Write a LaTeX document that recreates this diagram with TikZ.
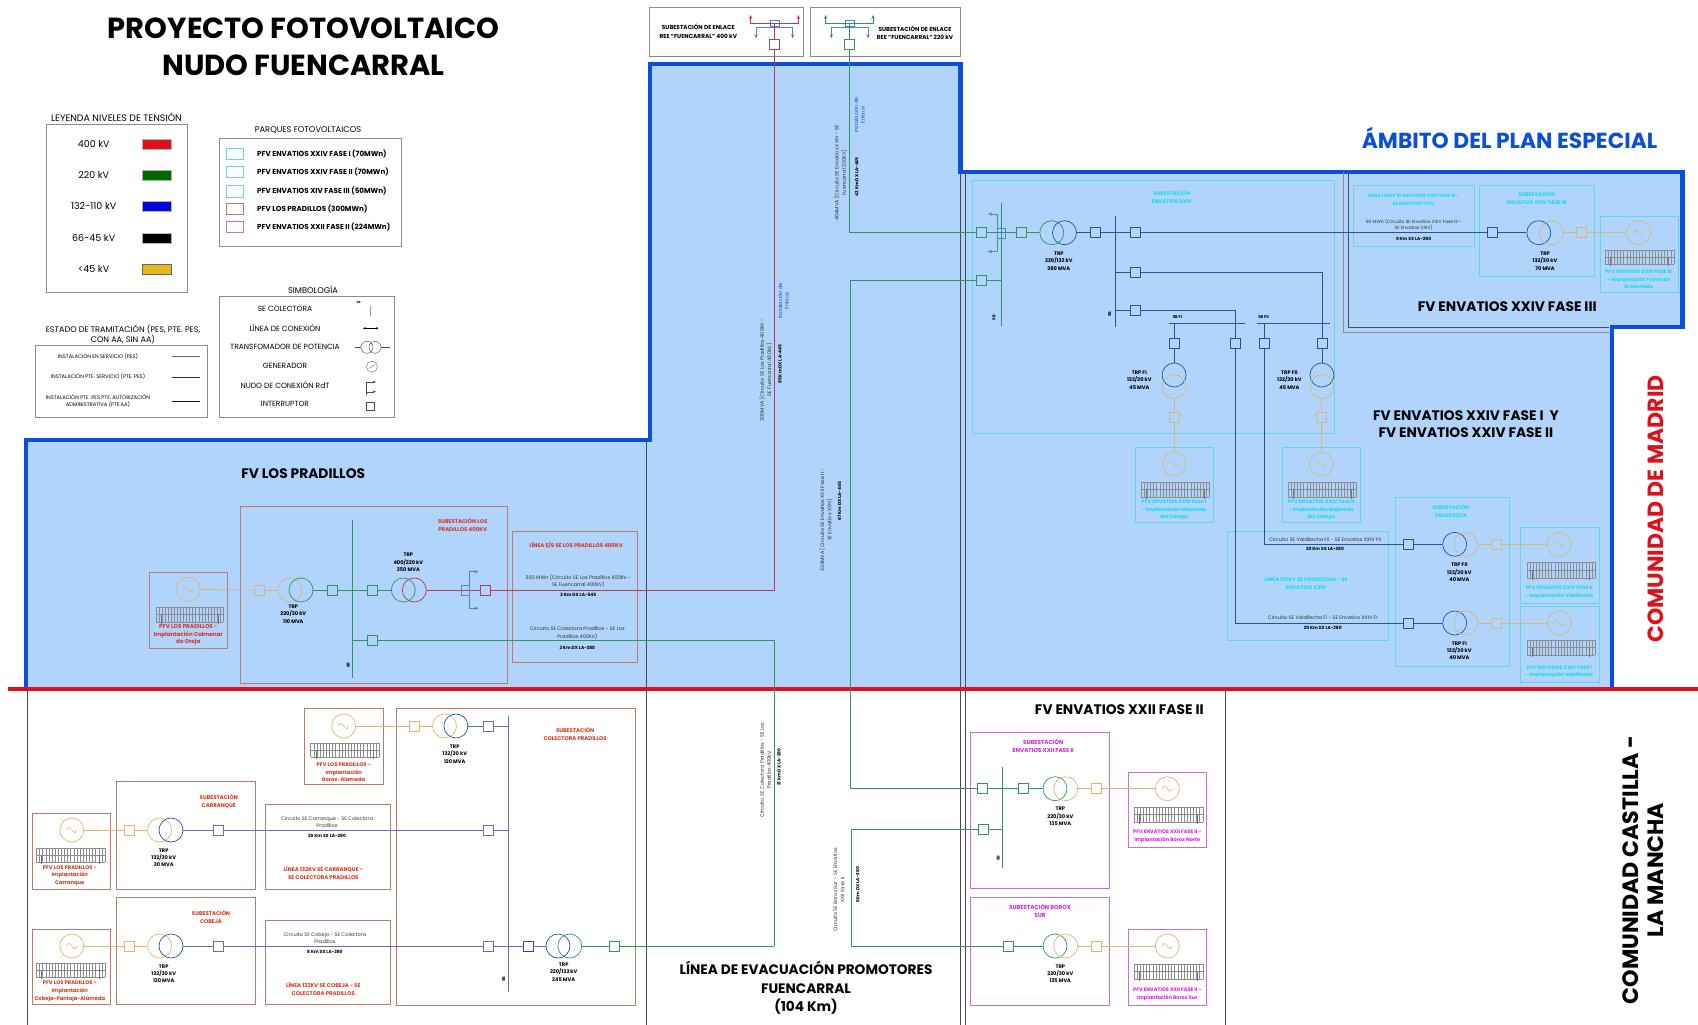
\documentclass[tikz,border=0pt]{standalone}
\usepackage{fontspec}
\setmainfont{Poppins}
\usetikzlibrary{arrows.meta}
\definecolor{zonefill}{HTML}{B0D4FB}
\definecolor{zoneblue}{HTML}{0A4FDC}
\definecolor{limitred}{HTML}{E0101A}
\definecolor{boxgrey}{HTML}{8C8C8C}
\definecolor{cyanbox}{HTML}{62D6EA}
\definecolor{cyantext}{HTML}{10DEEE}
\definecolor{brownbox}{HTML}{BC7A68}
\definecolor{redtext}{HTML}{D8341C}
\definecolor{purplebox}{HTML}{CE6CD8}
\definecolor{purpletext}{HTML}{DC1CE0}
\definecolor{line400}{HTML}{B83A58}
\definecolor{line220}{HTML}{2E9464}
\definecolor{line132}{HTML}{2A4EA4}
\definecolor{linepale}{HTML}{6C6CB0}
\definecolor{line30}{HTML}{D8B870}
\definecolor{nodeblue}{HTML}{4A86D8}
\tikzset{
  brk/.style={draw,rectangle,minimum size=10pt,inner sep=0pt,line width=.6pt},
  xf/.style={draw,circle,minimum size=24pt,inner sep=0pt,line width=.7pt},
  gencirc/.style={draw=line30,circle,minimum size=24pt,inner sep=0pt,line width=.7pt},
  conn/.style={line width=.7pt},
  busbar/.style={line width=.9pt},
  txtbase/.style={align=center,inner sep=0pt},
  trp/.style={txtbase,font=\fontsize{5.1}{7.3}\selectfont\bfseries},
  circ/.style={txtbase,font=\fontsize{5}{7.2}\selectfont,text=black!80},
  dist/.style={txtbase,font=\fontsize{4.4}{6}\selectfont\bfseries},
  cyanhead/.style={txtbase,font=\fontsize{5.2}{8}\selectfont\bfseries,text=cyantext},
  redhead/.style={txtbase,font=\fontsize{5.4}{8}\selectfont\bfseries,text=redtext},
  purphead/.style={txtbase,font=\fontsize{5.7}{8}\selectfont\bfseries,text=purpletext},
  enlace/.style={txtbase,font=\fontsize{5}{6.7}\selectfont,text=zoneblue},
  zonetitle/.style={txtbase,font=\fontsize{13.8}{16.7}\selectfont\bfseries},
  legtitle/.style={txtbase,font=\fontsize{9.4}{10}\selectfont},
  legrow/.style={txtbase,font=\fontsize{7.5}{8}\selectfont},
  cyanframe/.style={draw=cyanbox,line width=.7pt},
  brownframe/.style={draw=brownbox,line width=.7pt},
  purpleframe/.style={draw=purplebox,line width=.7pt},
  legframe/.style={draw=boxgrey,line width=.7pt},
  bothtips/.style={{Stealth[length=4pt,width=3.5pt]}-{Stealth[length=4pt,width=3.5pt]}}
}
\newcommand{\pvpanel}[4]{%
  \draw[black!45,line width=.4pt] (#1,#2) -- (#3,#2) (#1,{(#2+#4)/2}) -- (#3,{(#2+#4)/2}) (#1,#4) -- (#3,#4);
  \foreach \k in {0,...,22} {\draw[black!45,line width=.3pt] ({#1+\k*(#3-#1)/22},#2) -- ({#1+\k*(#3-#1)/22},#4);}
  \draw[black!55,line width=.7pt] ({#1+.08*(#3-#1)},{(#2+#4)/2}) -- ({#1+.08*(#3-#1)},{#4+2}) ({#1+.92*(#3-#1)},{(#2+#4)/2}) -- ({#1+.92*(#3-#1)},{#4+2});
}
\newcommand{\gensine}[1]{%
  \draw[line30,line width=.6pt] ([xshift=-5pt]#1.center) .. controls +(2.5,-5.5) and +(-2.5,-1) .. (#1.center) .. controls +(2.5,1) and +(-2.5,5.5) .. ([xshift=5pt]#1.center);
}
\begin{document}
\begin{tikzpicture}[x=1pt,y=-1pt]
   \useasboundingbox (0,0) rectangle (1698,1025);

   \draw [fill=zonefill,draw=zoneblue,line width=4.5pt,line join=miter] (650,64) -- (960.5,64) -- (960.5,172) -- (1682.4,172) -- (1682.4,327) -- (1612,327) -- (1612,689) -- (26,689) -- (26,440) -- (650,440) -- cycle;
   \draw [black!70,line width=.7pt] (646,440) -- (646,1025);
   \draw [black!70,line width=.7pt] (960,172) -- (960,1025);
   \draw [black!70,line width=.7pt] (965.5,172) -- (965.5,1025);
   \draw [black!70,line width=.7pt] (27,689) -- (27,1025);
   \draw [black!70,line width=.7pt] (1225,689) -- (1225,1025);
   \draw [black!70,line width=.7pt] (1348,172) -- (1348,327.7) -- (1609,327.7);
   \draw [black!45,line width=.7pt] (1343.5,172) -- (1343.5,332.3) -- (1609,332.3);
   \draw [limitred,line width=4.5pt] (8,689) -- (1698,689);

   % titles
   \node (TitleA) at (303.5,28.3) [txtbase,font=\fontsize{29}{36}\selectfont\bfseries] {PROYECTO FOTOVOLTAICO};
   \node (TitleB) at (303.5,65) [txtbase,font=\fontsize{29}{36}\selectfont\bfseries] {NUDO FUENCARRAL};
   \node (Ambito) at (1509.6,137.5) [txtbase,font=\fontsize{21.8}{24}\selectfont\bfseries,text=zoneblue] {ÁMBITO DEL PLAN ESPECIAL};
   \node (Madrid) at (1655.8,509) [txtbase,rotate=90,font=\fontsize{22}{24}\selectfont\bfseries,text=limitred] {COMUNIDAD DE MADRID};
   \node (Mancha) at (1643,870) [txtbase,rotate=90,font=\fontsize{22.2}{24.5}\selectfont\bfseries] {COMUNIDAD CASTILLA -\\LA MANCHA};
   \node (Evacua) at (806,988) [txtbase,font=\fontsize{13.7}{18.5}\selectfont\bfseries] {LÍNEA DE EVACUACIÓN PROMOTORES\\FUENCARRAL\\(104 Km)};
   \node (ZonePrad) at (303.2,474) [zonetitle] {FV LOS PRADILLOS};
   \node (ZoneF3) at (1507.3,306.7) [zonetitle] {FV ENVATIOS XXIV FASE III};
   \node (ZoneF12) at (1465.9,424.3) [zonetitle] {FV ENVATIOS XXIV FASE I\ \ Y\\FV ENVATIOS XXIV FASE II};
   \node (ZoneX22) at (1119.3,709.3) [zonetitle] {FV ENVATIOS XXII FASE II};

   % legend voltage
   \node (LegV) at (116.5,117) [legtitle] {LEYENDA NIVELES DE TENSIÓN};
   \draw [legframe] (46,124.7) rectangle (187.4,292.3);
   \node (V400) at (93.7,144) [txtbase,font=\fontsize{9.5}{10}\selectfont] {400 kV};
   \node (V220) at (93.7,175) [txtbase,font=\fontsize{9.5}{10}\selectfont] {220 kV};
   \node (V132) at (93.7,206.3) [txtbase,font=\fontsize{9.5}{10}\selectfont] {132-110 kV};
   \node (V66) at (93.7,237.7) [txtbase,font=\fontsize{9.5}{10}\selectfont] {66-45 kV};
   \node (V45) at (93.7,268.7) [txtbase,font=\fontsize{9.5}{10}\selectfont] {<45 kV};
   \draw [fill=limitred,draw=black!30] (141.8,139) rectangle (170.8,149);
   \draw [fill=green!40!black,draw=black!30] (141.8,170) rectangle (170.8,180);
   \draw [fill=blue!90!black,draw=black!30] (141.8,201.3) rectangle (170.8,211.3);
   \draw [fill=black,draw=black!30] (141.8,232.7) rectangle (170.8,242.7);
   \draw [fill={rgb,255:red,232;green,184;blue,32},draw=black!60] (141.8,263.7) rectangle (170.8,273.7);

   % legend parks
   \node (LegP) at (308,129.7) [txtbase,font=\fontsize{8.3}{9}\selectfont] {PARQUES FOTOVOLTAICOS};
   \draw [legframe] (219.7,138.7) rectangle (401.3,246.7);
   \draw [cyanframe] (226.4,148.4) rectangle (243.8,159.6);
   \draw [cyanframe] (226.4,166.4) rectangle (243.8,177.6);
   \draw [cyanframe] (226.4,185.7) rectangle (243.8,196.9);
   \draw [brownframe] (226.4,203.1) rectangle (243.8,214.3);
   \draw [purpleframe] (226.4,221.4) rectangle (243.8,232.6);
   \node (ParkA) at (257,154) [legrow,anchor=west,font=\fontsize{7.2}{8}\selectfont\bfseries] {PFV ENVATIOS XXIV FASE I (70MWn)};
   \node (ParkB) at (257,172) [legrow,anchor=west,font=\fontsize{7.2}{8}\selectfont\bfseries] {PFV ENVATIOS XXIV FASE II (70MWn)};
   \node (ParkC) at (257,191.3) [legrow,anchor=west,font=\fontsize{7.2}{8}\selectfont\bfseries] {PFV ENVATIOS XIV FASE III (50MWn)};
   \node (ParkD) at (257,208.7) [legrow,anchor=west,font=\fontsize{7.2}{8}\selectfont\bfseries] {PFV LOS PRADILLOS (300MWn)};
   \node (ParkE) at (257,227) [legrow,anchor=west,font=\fontsize{7.2}{8}\selectfont\bfseries] {PFV ENVATIOS XXII FASE II (224MWn)};

   % legend symbols
   \node (LegS) at (313,290) [txtbase,font=\fontsize{8.3}{9}\selectfont] {SIMBOLOGÍA};
   \draw [legframe] (219.7,296) rectangle (394.7,417.3);
   \node (SymA) at (285,309.3) [legrow] {SE COLECTORA};
   \node (SymB) at (285,328.3) [legrow] {LÍNEA DE CONEXIÓN};
   \node (SymC) at (285,347.3) [legrow] {TRANSFOMADOR DE POTENCIA};
   \node (SymD) at (285,366) [legrow] {GENERADOR};
   \node (SymE) at (285,385) [legrow] {NUDO DE CONEXIÓN RdT};
   \node (SymF) at (285,404) [legrow] {INTERRUPTOR};
   \node (SymSB) at (358.6,302.7) [txtbase,font=\fontsize{3}{4}\selectfont\bfseries] {SB};
   \draw [black!40,line width=.6pt] (370.2,306) -- (370.2,316);
   \draw [black,line width=.5pt,{Stealth[length=3pt]}-{Circle[length=2pt]}] (362.8,328.3) -- (378,328.3);
   \node (SymX1) at (367,347.3) [xf,draw=black!70,minimum size=12pt,line width=.4pt] {};
   \node (SymX2) at (375,347.3) [xf,draw=black!70,minimum size=12pt,line width=.4pt] {};
   \draw [black!70,line width=.4pt] (354.5,347.3) -- (SymX1) (SymX2) -- (389.7,347.3);
   \node (SymG) at (371.9,366.7) [xf,draw=black!60,minimum size=11pt,line width=.4pt] {};
   \draw [black!60,line width=.4pt] (369,368.5) -- (374.8,364.5);
   \draw [black!70,line width=.4pt,-{Stealth[length=3.5pt]}] (365.7,395) -- (365.7,382) -- (376,382);
   \draw [black!70,line width=.4pt,-{Stealth[length=3.5pt]}] (365.7,391.7) -- (376,391.7);
   \node (SymI) at (369.8,405.7) [brk,draw=black!70,minimum size=8pt,line width=.4pt] {};

   % legend status
   \node (LegE) at (123,334.3) [legtitle,font=\fontsize{8.1}{10}\selectfont] {ESTADO DE TRAMITACIÓN (PES, PTE. PES,\\CON AA, SIN AA)};
   \draw [legframe] (35.2,345.3) rectangle (207.7,417.3);
   \node (EstA) at (98,356.3) [txtbase,font=\fontsize{5.2}{7}\selectfont] {INSTALACIÓN EN SERVICIO (PES)};
   \node (EstB) at (98,377) [txtbase,font=\fontsize{5.2}{7}\selectfont] {INSTALACIÓN PTE. SERVICIO (PTE. PES)};
   \node (EstC) at (98,401.2) [txtbase,font=\fontsize{5.2}{7}\selectfont] {INSTALACIÓN PTE. PES PTE. AUTORIZACIÓN\\ADMINISTRATIVA (PTE.AA)};
   \draw [black!60,line width=.4pt] (172,356.3) -- (200,356.3);
   \draw [black!80,line width=.5pt] (172,377) -- (200,377);
   \draw [black!90,line width=.9pt] (172,401.3) -- (200,401.3);

   % enlace REE
   \draw [legframe] (649.3,7) rectangle (803.3,56.7);
   \draw [legframe] (810.7,7) rectangle (960.7,56.7);
   \node (EnlA) at (698.3,31.2) [txtbase,font=\fontsize{5.8}{9}\selectfont\bfseries] {SUBESTACIÓN DE ENLACE\\REE "FUENCARRAL" 400 kV};
   \node (EnlB) at (915,32.7) [txtbase,font=\fontsize{5.8}{8}\selectfont\bfseries] {SUBESTACIÓN DE ENLACE\\REE "FUENCARRAL" 220 kV};
   \node (Brk400) at (774,44.3) [brk,draw=line400] {};
   \node (Brk220) at (849.3,44.3) [brk,draw=line220] {};
   \coordinate (Tie400) at (774,23.3);
   \coordinate (Tie220) at (849.3,23.3);
   \draw [nodeblue,line width=.5pt,bothtips] (756,38.3) -- (756,27.7) -- (792.7,27.7) -- (792.7,38.3);
   \draw [nodeblue,line width=.5pt,bothtips] (831.3,38.3) -- (831.3,27.7) -- (868,27.7) -- (868,38.3);
   \draw [nodeblue,line width=.5pt] (770,20) rectangle (779.3,26.7);
   \draw [nodeblue,line width=.5pt] (845,20) rectangle (854,26.7);
   \draw [line400,line width=.9pt,bothtips] (750.7,15) -- (750.7,23.3) -- (798.3,23.3) -- (798.3,15);
   \draw [line220,line width=.9pt,bothtips] (825.7,15) -- (825.7,23.3) -- (873,23.3) -- (873,15);
   \draw [line400,conn] (Tie400) -- (Brk400);
   \draw [line220,conn] (Tie220) -- (Brk220);

   % LOS PRADILLOS
   \draw [brownframe] (240.3,506) rectangle (507.7,683.7);
   \draw [brownframe] (149.3,572.3) rectangle (227.7,648);
   \draw [brownframe] (512.3,531) rectangle (637.7,662.7);
   \node (SubPrad) at (462.7,524.7) [redhead] {SUBESTACIÓN LOS\\PRADILLOS 400KV};
   \node (LinPrad) at (576,545.7) [redhead] {LÍNEA E/S SE LOS PRADILLOS 400KV};
   \node (GenPrad) at (188.3,589.3) [gencirc] {};
   \gensine{GenPrad}
   \pvpanel{155.7}{606.7}{223.3}{621.7}
   \node (PfvPrad) at (188.3,635) [redhead,font=\fontsize{5.6}{7.7}\selectfont\bfseries] {PFV LOS PRADILLOS -\\Implantación Colmenar\\de Oreja};
   \node (BrkP1) at (259,590) [brk,draw=line30] {};
   \node (XfP1) at (290,590) [xf,draw=line30] {};
   \node (XfP2) at (301,590) [xf,draw=line220] {};
   \node (BrkP2) at (332.3,590) [brk,draw=line220] {};
   \node (BrkP3) at (372.3,590) [brk,draw=line220] {};
   \node (XfP3) at (403.3,590) [xf,draw=line220] {};
   \node (XfP4) at (414.3,590) [xf,draw=line400] {};
   \node (BrkP4) at (485.7,590) [brk,draw=line400] {};
   \node (BrkP5) at (372.3,640.7) [brk,draw=line220] {};
   \coordinate (BusPt) at (352,520);
   \coordinate (BusPb) at (352,677.7);
   \draw [line220,busbar] (BusPt) -- (BusPb);
   \node (BusPl) at (348.3,665) [txtbase,rotate=90,font=\fontsize{4}{5}\selectfont\bfseries] {SB};
   \draw [line30,conn] (GenPrad) -- (BrkP1);
   \draw [line30,conn] (BrkP1) -- (XfP1);
   \draw [line220,conn] (XfP2) -- (BrkP2);
   \draw [line220,conn] (BrkP2) -- (BrkP3);
   \draw [line220,conn] (BrkP3) -- (XfP3);
   \draw [line400,conn] (XfP4) -- (BrkP4);
   \draw [line220,conn] (BrkP5) -- (BrkP5 -| BusPt);
   \draw [nodeblue,line width=.5pt,bothtips] (478.3,571.7) -- (469,571.7) -- (469,608.3) -- (478.3,608.3);
   \draw [nodeblue,line width=.5pt] (461.7,585.7) rectangle (469,595);
   \node (TrpP1) at (293.3,614) [trp] {TRP\\220/30 kV\\110 MVA};
   \node (TrpP2) at (408.3,562.3) [trp] {TRP\\400/220 kV\\350 MVA};
   \node (CircP1) at (578.3,581) [circ] {300 MWn (Circuito SE Los Pradillos 400kV -\\SE Fuencarral 400kV)};
   \node (DistP1) at (578.3,595.3) [dist] {2 Km DX LA-545};
   \node (CircP2) at (577.3,633) [circ] {Circuito SE Colectora Pradillos - SE Los\\Pradillos 400kV)};
   \node (DistP2) at (577.3,647.7) [dist] {2 Km DX LA-280};

   % main lines
   \coordinate (Turn400) at (774,590);
   \coordinate (Turn220a) at (774.3,640.7);
   \coordinate (Turn220b) at (774.3,946);
   \draw [line400,conn] (BrkP4) -- (Turn400) -- (Brk400);
   \draw [line220,conn] (BrkP5) -- (Turn220a) -- (Turn220b);
   \node (EnlP) at (783.4,301) [enlace,rotate=90] {Instalación de\\Enlace};
   \node (CircM1) at (765.7,370) [circ,rotate=90] {300MVA [Circuito SE Los Pradillos 400kV -\\SE Fuencarral 400kV]};
   \node (DistM1) at (780,364) [dist,rotate=90] {85 Km DX LA-445};
   \node (EnlQ) at (859.4,115) [enlace,rotate=90] {Instalación de\\Enlace};
   \node (CircM2) at (840.3,173) [circ,rotate=90] {404MVA [Circuito SE Envatios XXIV - SE\\Fuencarral 220kV]};
   \node (DistM2) at (856.7,176.7) [dist,rotate=90] {42 Km DX LA-445};
   \node (CircM3) at (825.9,520) [circ,rotate=90] {224MVA [Circuito SE Envatios XXII Fase II -\\SE Envatios XXIV]};
   \node (DistM3) at (839.5,501) [dist,rotate=90] {67 Km DX LA-445};
   \node (CircM4) at (765.5,770) [circ,rotate=90] {Circuito SE Colectora Pradillos - SE Los\\Pradillos 400kV};
   \node (DistM4) at (779,767.3) [dist,rotate=90] {21 Km DX LA-280};
   \node (CircM5) at (838.8,890) [circ,rotate=90] {Circuito SE Borox Sur - SE Envatios\\XXII Fase II};
   \node (DistM5) at (857.7,885) [dist,rotate=90] {6 Km DX LA-280};

   % ENVATIOS XXIV
   \draw [cyanframe] (972.7,180.7) rectangle (1334,433.3);
   \draw [cyanframe] (1353.4,185.3) rectangle (1474.4,246.7);
   \draw [cyanframe] (1479.5,185.3) rectangle (1594.4,276.3);
   \draw [cyanframe] (1600,216.7) rectangle (1678.6,292.3);
   \draw [cyanframe] (1135.5,447.3) rectangle (1213.2,522.7);
   \draw [cyanframe] (1282.4,447.3) rectangle (1360.5,522.7);
   \node (SubE24) at (1171.8,197.3) [cyanhead] {SUBESTACIÓN\\ENVATIOS XXIV};
   \node (LinE3) at (1413.6,199.2) [cyanhead,font=\fontsize{4.6}{8}\selectfont\bfseries] {LÍNEA 132KV SE ENVATIOS XXIV FASE III -\\SE ENVATIOS XXIV};
   \node (SubE3) at (1536.9,198.2) [cyanhead] {SUBESTACIÓN\\ENVATIOS XXIV FASE III};
   \node (PfvE3) at (1638.6,279.3) [cyanhead,font=\fontsize{4.9}{7.6}\selectfont\bfseries] {PFV ENVATIOS XXIV FASE III\\- Implantación Torres de\\la Alameda};
   \node (PfvF1) at (1174.1,510) [cyanhead,font=\fontsize{5}{7.7}\selectfont\bfseries] {PFV ENVATIOS XXIV Fase I\\- Implantación Mejorada\\del Campo};
   \node (PfvF2) at (1321.3,510) [cyanhead,font=\fontsize{5}{7.7}\selectfont\bfseries] {PFV ENVATIOS XXIV Fase II\\- Implantación Mejorada\\del Campo};
   \node (BrkG1) at (981.2,232.7) [brk,draw=line220] {};
   \node (BrkG2) at (1021.6,232.7) [brk,draw=line220] {};
   \node (BrkG3) at (981.2,280) [brk,draw=line220] {};
   \node (XfG) at (1051.8,232.7) [xf,draw=line220] {};
   \node (XfB) at (1064.5,232.7) [xf,draw=line132] {};
   \node (BrkB1) at (1095.5,232.7) [brk,draw=line132] {};
   \node (BrkB2) at (1135.5,232.7) [brk,draw=line132] {};
   \node (BrkB3) at (1135.5,272) [brk,draw=line132] {};
   \node (BrkB4) at (1135.5,310.7) [brk,draw=line132] {};
   \node (BrkE3) at (1492.7,232.7) [brk,draw=line132] {};
   \node (XfE1) at (1538.8,232.7) [xf,draw=line132] {};
   \node (XfE2) at (1551.5,232.7) [xf,draw=line30] {};
   \node (BrkE4) at (1581.2,232.7) [brk,draw=line30] {};
   \node (GenE3) at (1638.6,232.7) [gencirc] {};
   \gensine{GenE3}
   \pvpanel{1604.7}{250}{1673.9}{264}
   \coordinate (BusGt) at (1001.4,203.3);
   \coordinate (BusGb) at (1001.4,325.7);
   \coordinate (BusBt) at (1115.8,216);
   \coordinate (BusBb) at (1115.8,326.7);
   \draw [line220,busbar] (BusGt) -- (BusGb);
   \draw [line132,busbar] (BusBt) -- (BusBb);
   \node (BusGl) at (993.9,317.7) [txtbase,rotate=90,font=\fontsize{4}{5}\selectfont\bfseries] {SB};
   \node (BusBl) at (1109.6,314) [txtbase,rotate=90,font=\fontsize{4}{5}\selectfont\bfseries] {SB};
   \draw [nodeblue,line width=.5pt,bothtips] (988,214) -- (997.6,214) -- (997.6,251.7) -- (988,251.7);
   \draw [nodeblue,line width=.5pt] (997.6,228) rectangle (1005.5,238);
   \draw [line220,conn] (BrkG1) -- (BrkG2);
   \draw [line220,conn] (BrkG2) -- (XfG);
   \draw [line220,conn] (BrkG3) -- (BrkG3 -| BusGt);
   \draw [line132,conn] (XfB) -- (BrkB1);
   \draw [line132,conn] (BrkB1) -- (BrkB2);
   \draw [line132,busbar] (BrkB2) -- (BrkE3);
   \draw [line132,conn] (BrkE3) -- (XfE1);
   \draw [line30,conn] (XfE2) -- (BrkE4);
   \draw [line30,conn] (BrkE4) -- (GenE3);
   \draw [line132,conn] (BrkB3) -- (BrkB3 -| BusBt);
   \draw [line132,conn] (BrkB4) -- (BrkB4 -| BusBt);
   \draw [line220,conn] (Brk220) |- (BrkG1);
   \coordinate (Tap224a) at (850,280);
   \coordinate (Tap224b) at (850,788.7);
   \node (TrpE1) at (1058.8,261) [trp] {TRP\\220/132 kV\\280 MVA};
   \node (TrpE3) at (1545,261) [trp] {TRP\\132/30 kV\\70 MVA};
   \node (CircE3) at (1413.6,224.7) [circ,font=\fontsize{4.5}{6}\selectfont] {60 MWn (Circuito SE Envatios XXIV Fase III -\\SE Envatios XXIV)};
   \node (DistE3) at (1413.6,239) [dist] {9 Km SX LA-280};

   % fase I II
   \coordinate (BusF1a) at (1169.4,323.3);
   \coordinate (BusF1b) at (1244.7,323.3);
   \coordinate (BusF2a) at (1256.5,323.3);
   \coordinate (BusF2b) at (1330.4,323.3);
   \draw [line132,conn] (BusF1a) -- (BusF1b);
   \draw [line132,conn] (BusF2a) -- (BusF2b);
   \node (SbF1) at (1177.4,317.3) [txtbase,font=\fontsize{4}{5}\selectfont\bfseries] {SB FI};
   \node (SbF2) at (1263.5,316.7) [txtbase,font=\fontsize{4}{5}\selectfont\bfseries] {SB FII};
   \node (BrkF1) at (1174.1,343.3) [brk,draw=line132] {};
   \node (BrkF2) at (1235.3,343.3) [brk,draw=line132] {};
   \node (BrkF3) at (1264,343.3) [brk,draw=line132] {};
   \node (BrkF4) at (1321.9,343.3) [brk,draw=line132] {};
   \node (XfF1) at (1174.1,375) [xf,draw=line132] {};
   \node (XfF2) at (1174.1,386.7) [xf,draw=line30] {};
   \node (XfF3) at (1321.9,375) [xf,draw=line132] {};
   \node (XfF4) at (1321.9,386.7) [xf,draw=line30] {};
   \node (BrkF5) at (1174.1,417) [brk,draw=line30] {};
   \node (BrkF6) at (1321.4,417) [brk,draw=line30] {};
   \node (GenF1) at (1174.1,464) [gencirc] {};
   \node (GenF2) at (1321.4,464) [gencirc] {};
   \gensine{GenF1}
   \gensine{GenF2}
   \pvpanel{1141}{481.7}{1209.4}{496.7}
   \pvpanel{1288}{481.7}{1356.4}{496.7}
   \draw [line132,conn] (BrkF1 |- BusF1a) -- (BrkF1);
   \draw [line132,conn] (BrkF1) -- (XfF1);
   \draw [line30,conn] (XfF2) -- (BrkF5);
   \draw [line30,conn] (BrkF5) -- (GenF1);
   \draw [line132,conn] (BrkF4) -- (XfF3);
   \draw [line30,conn] (XfF4) -- (BrkF6);
   \draw [line30,conn] (BrkF6) -- (GenF2);
   \draw [line132,conn] (BrkB3) -| (BrkF4);
   \draw [line132,conn] (BrkB4) -| (BrkF2);
   \draw [line132,conn] (BrkF3 |- BusF2a) -- (BrkF3);
   \node (TrpF1) at (1139.3,380) [trp] {TRP FI\\132/30 kV\\45 MVA};
   \node (TrpF2) at (1289.4,380) [trp] {TRP FII\\132/30 kV\\45 MVA};

   % VALDILECHA
   \draw [cyanframe] (1395,497.3) rectangle (1509.3,666);
   \draw [cyanframe] (1227.7,531) rectangle (1388.7,640);
   \draw [cyanframe] (1520.7,527.3) rectangle (1599,603.3);
   \draw [cyanframe] (1520.7,606) rectangle (1599,682);
   \node (SubVal) at (1450.7,510.7) [cyanhead] {SUBESTACIÓN\\VALDILECHA};
   \node (LinVal) at (1306,583) [cyanhead] {LÍNEA 132KV SE VALDILECHA - SE\\ENVATIOS XXIV};
   \node (PfvV2) at (1559.3,592.5) [cyanhead,font=\fontsize{5}{7.6}\selectfont\bfseries] {PFV ENVATIOS XXIV FASE II\\- Implantación Valdilecha};
   \node (PfvV1) at (1559.3,671.9) [cyanhead,font=\fontsize{5}{7.6}\selectfont\bfseries] {PFV ENVATIOS XXIV FASE I\\- Implantación Valdilecha};
   \node (BrkV1) at (1408,544.3) [brk,draw=line132] {};
   \node (BrkV2) at (1408,623) [brk,draw=line132] {};
   \node (XfV1) at (1454.7,544.3) [xf,draw=line132] {};
   \node (XfV2) at (1465.7,544.3) [xf,draw=line30] {};
   \node (XfV3) at (1454.7,623) [xf,draw=line132] {};
   \node (XfV4) at (1465.7,623) [xf,draw=line30] {};
   \node (BrkV3) at (1496.7,544.3) [brk,draw=line30] {};
   \node (BrkV4) at (1496.7,623) [brk,draw=line30] {};
   \node (GenV1) at (1559.3,544.3) [gencirc] {};
   \node (GenV2) at (1559.3,623) [gencirc] {};
   \gensine{GenV1}
   \gensine{GenV2}
   \pvpanel{1526.7}{561.7}{1595}{578.3}
   \pvpanel{1526.7}{640}{1595}{655}
   \coordinate (TurnV1) at (1264,544.3);
   \coordinate (TurnV2) at (1235.3,623);
   \draw [line132,conn] (BrkF3) -- (TurnV1) -- (BrkV1);
   \draw [line132,conn] (BrkF2) -- (TurnV2) -- (BrkV2);
   \draw [line132,conn] (BrkV1) -- (XfV1);
   \draw [line132,conn] (BrkV2) -- (XfV3);
   \draw [line30,conn] (XfV2) -- (BrkV3);
   \draw [line30,conn] (BrkV3) -- (GenV1);
   \draw [line30,conn] (XfV4) -- (BrkV4);
   \draw [line30,conn] (BrkV4) -- (GenV2);
   \node (TrpV1) at (1459.3,572.3) [trp] {TRP FII\\132/30 kV\\40 MVA};
   \node (TrpV2) at (1459.3,650.7) [trp] {TRP FI\\132/30 kV\\40 MVA};
   \node (CircV1) at (1325,539.3) [circ] {Circuito SE Valdilecha FII -\ SE Envatios XXIV FII};
   \node (DistV1) at (1325,549.3) [dist] {20 Km SX LA-280};
   \node (CircV2) at (1322.7,617.3) [circ] {Circuito SE Valdilecha FI -\ SE Envatios XXIV FI};
   \node (DistV2) at (1322.7,628) [dist] {20 Km SX LA-280};

   % ENVATIOS XXII
   \draw [purpleframe] (970.3,732.3) rectangle (1109.7,888);
   \draw [purpleframe] (970.3,897.3) rectangle (1109.7,1005);
   \draw [purpleframe] (1128.7,772) rectangle (1206.3,847.7);
   \draw [purpleframe] (1128.7,929) rectangle (1206.3,1005);
   \node (SubX22) at (1043.3,745.3) [purphead] {SUBESTACIÓN\\ENVATIOS XXII FASE II};
   \node (SubBor) at (1040,910.7) [purphead] {SUBESTACIÓN BOROX\\SUR};
   \node (PfvX1) at (1167.3,836.7) [purphead,font=\fontsize{5}{8}\selectfont\bfseries] {PFV ENVATIOS XXII FASE II -\\Implantación Borox Norte};
   \node (PfvX2) at (1167.3,994) [purphead,font=\fontsize{5}{8}\selectfont\bfseries] {PFV ENVATIOS XXII FASE II -\\Implantación Borox Sur};
   \coordinate (BusXt) at (1002.3,767);
   \coordinate (BusXb) at (1002.3,868.3);
   \draw [line220,busbar] (BusXt) -- (BusXb);
   \node (BusXl) at (998.3,858.3) [txtbase,rotate=90,font=\fontsize{4}{5}\selectfont\bfseries] {SB};
   \node (BrkX1) at (982.7,788.7) [brk,draw=line220] {};
   \node (BrkX2) at (1023,788.7) [brk,draw=line220] {};
   \node (BrkX3) at (1096.3,788.7) [brk,draw=line30] {};
   \node (BrkX4) at (983.7,829) [brk,draw=line220] {};
   \node (BrkX5) at (1008,946) [brk,draw=line220] {};
   \node (BrkX6) at (1096.3,946) [brk,draw=line30] {};
   \node (XfX1) at (1055,788.7) [xf,draw=line220] {};
   \node (XfX2) at (1065.7,788.7) [xf,draw=line30] {};
   \node (XfX3) at (1055,946) [xf,draw=line220] {};
   \node (XfX4) at (1065.7,946) [xf,draw=line30] {};
   \node (GenX1) at (1167.3,788.7) [gencirc] {};
   \node (GenX2) at (1167.3,946) [gencirc] {};
   \gensine{GenX1}
   \gensine{GenX2}
   \pvpanel{1134}{806.7}{1202.7}{821.7}
   \pvpanel{1134}{964}{1202.7}{979}
   \draw [line220,conn] (BrkG3) -- (Tap224a) -- (Tap224b) -- (BrkX1);
   \draw [line220,conn] (BrkX1) -- (BrkX2);
   \draw [line220,conn] (BrkX2) -- (XfX1);
   \draw [line30,conn] (XfX2) -- (BrkX3);
   \draw [line30,conn] (BrkX3) -- (GenX1);
   \draw [line220,conn] (BrkX4) -- (BrkX4 -| BusXt);
   \coordinate (TapBa) at (851,829);
   \coordinate (TapBb) at (851,946);
   \draw [line220,conn] (BrkX4) -- (TapBa) -- (TapBb) -- (BrkX5);
   \draw [line220,conn] (BrkX5) -- (XfX3);
   \draw [line30,conn] (XfX4) -- (BrkX6);
   \draw [line30,conn] (BrkX6) -- (GenX2);
   \node (TrpX1) at (1060.3,816.3) [trp] {TRP\\220/30 kV\\135 MVA};
   \node (TrpX2) at (1060.3,973.7) [trp] {TRP\\220/30 kV\\125 MVA};

   % COLECTORA PRADILLOS
   \draw [brownframe] (304.5,708.3) rectangle (382.9,784);
   \draw [brownframe] (396.3,708.3) rectangle (635.1,1005);
   \draw [brownframe] (32.2,813.3) rectangle (110.2,889);
   \draw [brownframe] (115.9,781.7) rectangle (255.5,889);
   \draw [brownframe] (265.3,804.3) rectangle (390.2,889);
   \draw [brownframe] (32.2,929) rectangle (110.2,1004.7);
   \draw [brownframe] (115.9,897.3) rectangle (255.5,1004.7);
   \draw [brownframe] (265.3,920) rectangle (390.2,1004.7);
   \node (SubCol) at (575.1,734.3) [redhead] {SUBESTACIÓN\\COLECTORA PRADILLOS};
   \node (SubCar) at (218.8,800.7) [redhead] {SUBESTACIÓN\\CARRANQUE};
   \node (SubCob) at (211,917) [redhead] {SUBESTACIÓN\\COBEJA};
   \node (LinCar) at (323.3,873.3) [redhead] {LÍNEA 132KV SE CARRANQUE -\\SE COLECTORA PRADILLOS};
   \node (LinCob) at (323.3,989.2) [redhead] {LÍNEA 132KV SE COBEJA - SE\\COLECTORA PRADILLOS};
   \node (PfvBor) at (343.7,772.3) [redhead,font=\fontsize{5.2}{7.7}\selectfont\bfseries] {PFV LOS PRADILLOS -\\Implantación\\Borox-Alameda};
   \node (PfvCar) at (69.8,875.7) [redhead,font=\fontsize{5.2}{7.7}\selectfont\bfseries] {PFV LOS PRADILLOS -\\Implantación\\Carranque};
   \node (PfvCob) at (69.8,991.2) [redhead,font=\fontsize{5.2}{7.7}\selectfont\bfseries] {PFV LOS PRADILLOS -\\Implantación\\Cobeja-Pantoja-Alameda};
   \coordinate (BusCt) at (508.6,716);
   \coordinate (BusCb) at (508.6,992.3);
   \draw [linepale,conn] (BusCt) -- (BusCb);
   \node (BusCl) at (503.7,979.3) [txtbase,rotate=90,font=\fontsize{4}{5}\selectfont\bfseries] {SB};
   \node (GenB) at (343.7,726) [gencirc] {};
   \node (GenC) at (71.8,830) [gencirc] {};
   \node (GenD) at (71.8,946) [gencirc] {};
   \gensine{GenB}
   \gensine{GenC}
   \gensine{GenD}
   \pvpanel{310.6}{743.3}{379.2}{757.3}
   \pvpanel{36.3}{847.7}{104.9}{861.7}
   \pvpanel{36.3}{963.3}{104.9}{977.3}
   \node (BrkC1) at (413.9,726) [brk,draw=line30] {};
   \node (XfC1) at (444.5,726) [xf,draw=line30] {};
   \node (XfC2) at (455.9,726) [xf,draw=line132] {};
   \node (BrkC2) at (488.2,726) [brk,draw=linepale] {};
   \node (BrkC3) at (129,830) [brk,draw=line30] {};
   \node (XfC3) at (159.6,830) [xf,draw=line30] {};
   \node (XfC4) at (171,830) [xf,draw=line132] {};
   \node (BrkC4) at (218,830) [brk,draw=linepale] {};
   \node (BrkC5) at (488.2,830) [brk,draw=linepale] {};
   \node (BrkC6) at (129,946) [brk,draw=line30] {};
   \node (XfC5) at (159.6,946) [xf,draw=line30] {};
   \node (XfC6) at (171,946) [xf,draw=line132] {};
   \node (BrkC7) at (218,946) [brk,draw=linepale] {};
   \node (BrkC8) at (488.2,946) [brk,draw=linepale] {};
   \node (BrkC9) at (527.8,946) [brk,draw=line132] {};
   \node (XfC7) at (558,946) [xf,draw=line132] {};
   \node (XfC8) at (569.8,946) [xf,draw=line220] {};
   \node (BrkC10) at (613.9,946) [brk,draw=line220] {};
   \draw [line30,conn] (GenB) -- (BrkC1);
   \draw [line30,conn] (BrkC1) -- (XfC1);
   \draw [linepale,conn] (XfC2) -- (BrkC2);
   \draw [linepale,conn] (BrkC2) -- (BrkC2 -| BusCt);
   \draw [line30,conn] (GenC) -- (BrkC3);
   \draw [line30,conn] (BrkC3) -- (XfC3);
   \draw [linepale,conn] (XfC4) -- (BrkC4);
   \draw [linepale,conn] (BrkC4) -- (BrkC5);
   \draw [linepale,conn] (BrkC5) -- (BrkC5 -| BusCt);
   \draw [line30,conn] (GenD) -- (BrkC6);
   \draw [line30,conn] (BrkC6) -- (XfC5);
   \draw [linepale,conn] (XfC6) -- (BrkC7);
   \draw [linepale,conn] (BrkC7) -- (BrkC8);
   \draw [linepale,conn] (BrkC8) -- (BrkC9);
   \draw [linepale,conn] (BrkC9) -- (XfC7);
   \draw [line220,conn] (XfC8) -- (BrkC10);
   \draw [line220,conn] (BrkC10) -- (Turn220b);
   \node (TrpC1) at (454.7,754) [trp] {TRP\\132/30 kV\\120 MVA};
   \node (TrpC2) at (163.7,857.7) [trp] {TRP\\132/30 kV\\30 MVA};
   \node (TrpC3) at (163.7,973.7) [trp] {TRP\\132/30 kV\\120 MVA};
   \node (TrpC4) at (563.7,972) [trp] {TRP\\220/132 kV\\245 MVA};
   \node (CircC1) at (327,822.2) [circ] {Circuito SE Carranque - SE Colectora\\Pradillos};
   \node (DistC1) at (327,836.3) [dist] {26 Km SX LA-280};
   \node (CircC2) at (324.9,937.8) [circ] {Circuito SE Cobejo - SE Colectora\\Pradillos};
   \node (DistC2) at (324.9,952) [dist] {8 Km SX LA-280};

\end{tikzpicture}
\end{document}
